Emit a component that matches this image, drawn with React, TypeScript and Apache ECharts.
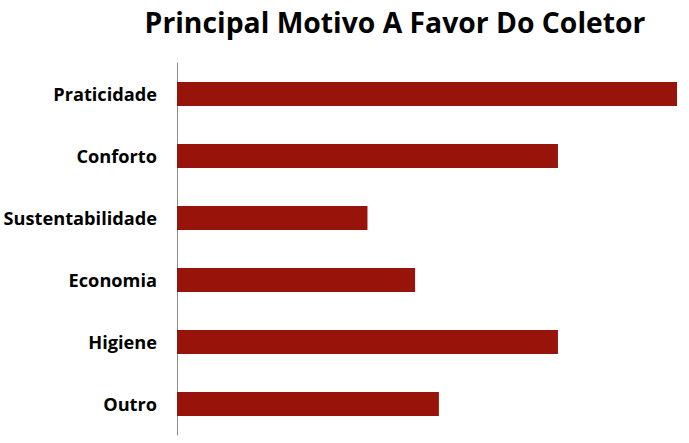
import React, { useEffect, useRef } from "react";
import * as echarts from "echarts";

const categories = ["Praticidade", "Conforto", "Sustentabilidade", "Economia", "Higiene", "Outro"];
const values = [21, 16, 8, 10, 16, 11];
const titleText = "Principal Motivo A Favor Do Coletor";

export default function App() {
  const ref = useRef<HTMLDivElement>(null);
  useEffect(() => {
    const chart = echarts.init(ref.current!, null, { renderer: "svg" });
    chart.setOption({
      animation: false,
      backgroundColor: "#ffffff",
      title: {
        text: titleText,
        left: 390,
        textAlign: "center",
        top: 3,
        textStyle: { fontFamily: "Open Sans", fontWeight: "bold", fontSize: 28.3, color: "#000" },
      },
      grid: { left: 177, right: 12, top: 63, bottom: 8, containLabel: false },
      xAxis: {
        type: "value",
        min: 0,
        max: 21,
        show: false,
      },
      yAxis: {
        type: "category",
        data: categories,
        inverse: true,
        axisLine: { show: true, lineStyle: { color: "#8c8c8c", width: 1 } },
        axisTick: { show: false },
        axisLabel: {
          margin: 20,
          fontFamily: "Open Sans",
          fontWeight: "bold",
          fontSize: 18.2,
          color: "#000",
        },
      },
      series: [
        {
          type: "bar",
          data: values,
          barWidth: 24,
          itemStyle: { color: "#98140a" },
        },
      ],
    });
    return () => chart.dispose();
  }, []);
  return <div ref={ref} style={{ position: "absolute", left: 0, top: 0, width: 689, height: 443 }} />;
}
